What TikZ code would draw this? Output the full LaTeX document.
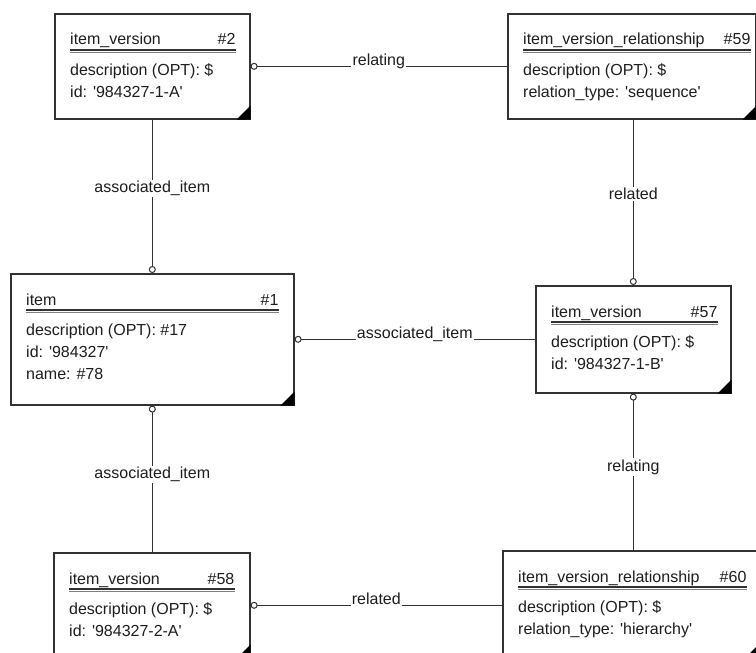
\documentclass[tikz,border=0pt]{standalone}
\usepackage{fontspec}
\setmainfont{Liberation Sans}[Ligatures=TeXOff]
\usetikzlibrary{arrows.meta,calc}
\definecolor{ink}{RGB}{30,30,30}
\definecolor{edgec}{RGB}{50,50,50}
\newcommand\entbox[9]{% name, x, y, w, h, title, num, lines, right inset
  \node[ent, minimum width=#4pt, minimum height=#5pt] (#1) at (#2,#3) {};
  \node[txt, anchor=base west] (#1-t) at ($(#1.north west)+(16,32)$) {#6};
  \node[txt, anchor=base east] (#1-n) at ($(#1.north east)+(-#9,32)$) {#7};
  \draw[edgec, line width=1.1pt] ($(#1.north west)+(16,37)$) -- ($(#1.north east)+(-#9,37)$);
  \draw[gray, line width=1pt] ($(#1.north west)+(16,39.5)$) -- ($(#1.north east)+(-#9,39.5)$);
  \fill[black] (#1.south east) -- ++(-14,0) -- ++(14,-14) -- cycle;
  \foreach \l [count=\i] in {#8} {
    \node[txt, anchor=base west] (#1-l\i) at ($(#1.north west)+(16,40+22*\i)$) {\l};
  }
}
\begin{document}
\begin{tikzpicture}[x=1pt,y=-1pt,
  ent/.style={draw=edgec, line width=1.6pt, fill=white, rectangle, inner sep=0pt, anchor=north west},
  txt/.style={text=ink, font=\fontsize{16}{18}\selectfont, inner sep=0pt},
  conn/.style={draw=edgec, line width=1.3pt},
  src/.style={conn, {Circle[open,fill=white,length=7pt,width=7pt,line width=1pt]}-},
  lbl/.style={txt, fill=white, inner sep=1.2pt},
  hlbl/.style={lbl, anchor=base, yshift=1pt},
]
\useasboundingbox (0,0) rectangle (756,653);
\clip (0,0) rectangle (756,653);
\fill[white] (0,0) rectangle (756,653);

\entbox{v2}{54}{13}{195}{105}{item\_version}{\#2}{description (OPT): \$,id: '984327-1-A'}{15}
\entbox{v59}{507}{13}{248}{105}{item\_version\_relationship}{\#59}{description (OPT): \$,relation\_type: 'sequence'}{6}
\entbox{item}{10}{273}{283}{131}{item}{\#1}{description (OPT): \#17,id: '984327',name: \#78}{16}
\entbox{v57}{535}{285}{195}{107}{item\_version}{\#57}{description (OPT): \$,id: '984327-1-B'}{14}
\entbox{v58}{53}{552}{196}{105}{item\_version}{\#58}{description (OPT): \$,id: '984327-2-A'}{16}
\entbox{v60}{502}{550}{256}{106}{item\_version\_relationship}{\#60}{description (OPT): \$,relation\_type: 'hierarchy'}{13}

\draw[src] (v2.east) -- node[hlbl, pos=0.5] (l1) {relating} (v59.west);
\draw[src] (item.north) -- node[lbl, pos=0.55] (l2) {associated\_item} (v2.south);
\draw[src] (v57.north) -- node[lbl, pos=0.55] (l3) {related} (v57.north |- v59.south);
\draw[src] (item.east) -- node[hlbl, pos=0.5] (l4) {associated\_item} (v57.west);
\draw[src] (item.south) -- node[lbl, pos=0.47] (l5) {associated\_item} (item.south |- v58.north);
\draw[src] (v57.south) -- node[lbl, pos=0.47] (l6) {relating} (v57.south |- v60.north);
\draw[src] (v58.east) -- node[hlbl, pos=0.5] (l7) {related} (v58.east -| v60.west);
\end{tikzpicture}
\end{document}
